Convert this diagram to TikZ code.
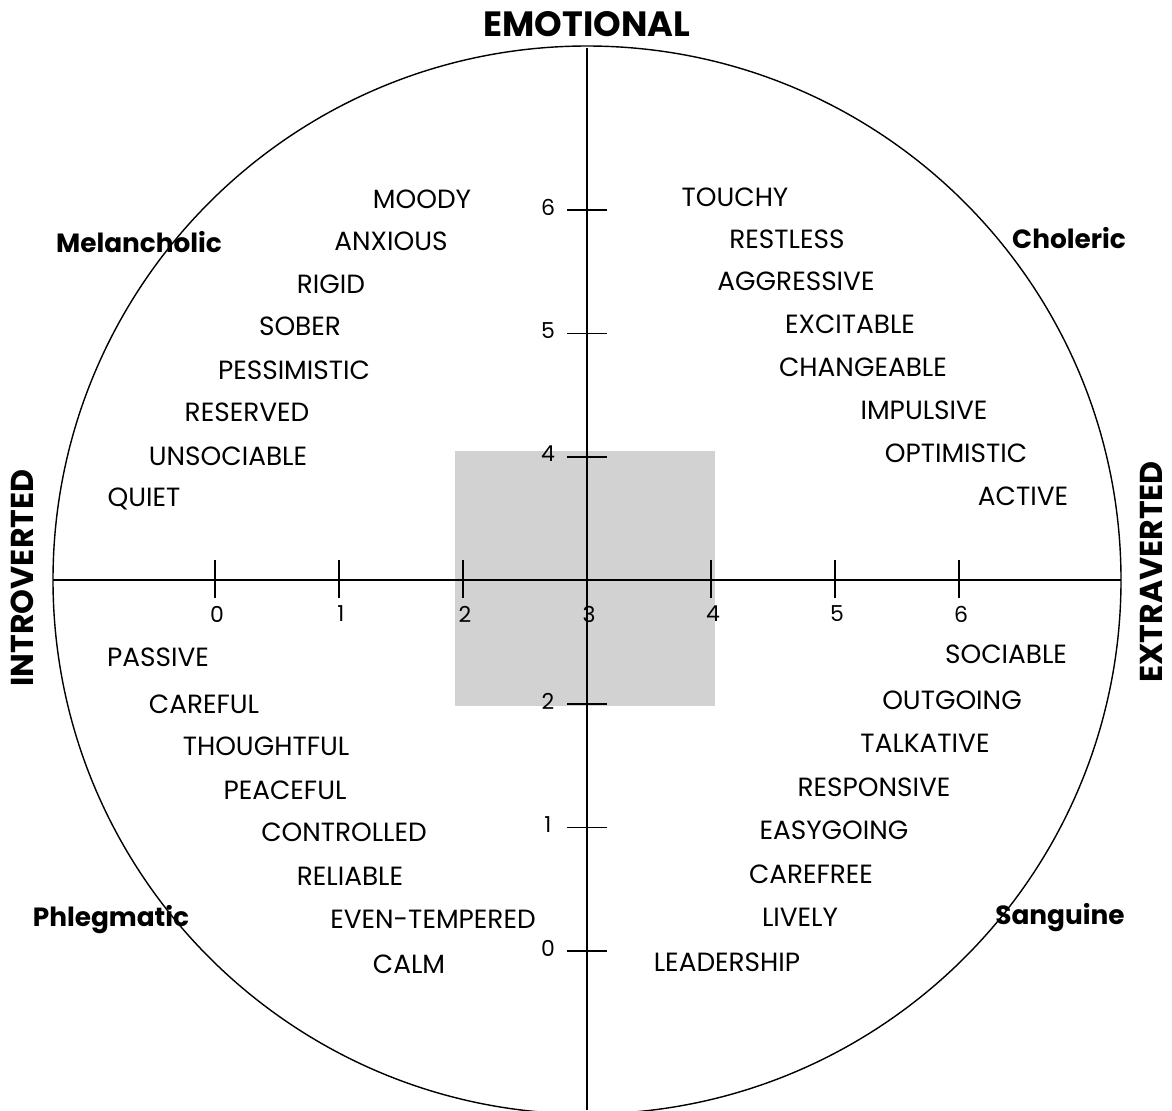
\documentclass[tikz,border=0pt]{standalone}
\usepackage{fontspec}
\setmainfont{Poppins}
\usepackage{tikz}
\usetikzlibrary{positioning, calc}

\begin{document}
\begin{tikzpicture}[
    x=0.02cm, y=-0.02cm,
    trait/.style={font=\fontsize{15}{17}\selectfont, inner sep=0pt},
    temper/.style={font=\fontsize{15}{17}\selectfont\bfseries, inner sep=0pt},
    axistitle/.style={font=\fontsize{18}{21}\selectfont\bfseries, inner sep=0pt},
    ticklabel/.style={font=\fontsize{12.5}{14}\selectfont, inner sep=0pt},
]
\useasboundingbox (0,0) rectangle (1172,1110);

% Centre and shaded square
\coordinate (c) at (587,580);
\node (box) [draw=none, fill=gray!35, minimum width=260*0.02cm, minimum height=255*0.02cm, inner sep=0pt] at (585,578) {};

% Circle and axes
\draw[line width=0.8pt] (c) circle [radius=534];
\coordinate (top) at (587,48);
\coordinate (bot) at (587,1110);
\coordinate (lft) at (53,580);
\coordinate (rgt) at (1121,580);
\draw[line width=0.8pt] (top) -- (bot);
\draw[line width=0.9pt] (lft) -- (rgt);

% Ticks on the horizontal scale
\foreach \n in {0,...,6} {
  \draw[line width=0.8pt] ({215+124*\n},560) -- ({215+124*\n},598);
  \node[ticklabel] (x\n) at ({217+124*\n},614) {\n};
}
% Ticks on the vertical scale
\foreach \n in {0,1,2,4,5,6} {
  \draw[line width=0.8pt] (567,{951-123.5*\n}) -- (607,{951-123.5*\n});
  \node[ticklabel] (y\n) at (548,{948-123.5*\n}) {\n};
}

% Axis titles
\node (emo) [axistitle, font=\fontsize{20}{23}\selectfont\bfseries] at (587,24) {EMOTIONAL};
\node (intro) [axistitle, rotate=90] at (22,578) {INTROVERTED};
\node (extra) [axistitle, rotate=90] at (1151,572) {EXTRAVERTED};

% Temperaments
\node (mel) [temper] at (139,242) {Melancholic};
\node (cho) [temper] at (1069,238) {Choleric};
\node (phl) [temper] at (111,920) {Phlegmatic};
\node (san) [temper] at (1060,918) {Sanguine};

% Melancholic traits
\node (moody) [trait] at (422,199) {MOODY};
\node (anxious) [trait] at (391,241) {ANXIOUS};
\node (rigid) [trait] at (331,284) {RIGID};
\node (sober) [trait] at (300,326) {SOBER};
\node (pessim) [trait] at (294,370) {PESSIMISTIC};
\node (reserved) [trait] at (247,412) {RESERVED};
\node (unsoc) [trait] at (228,456) {UNSOCIABLE};
\node (quiet) [trait] at (144,499) {QUIET};

% Choleric traits
\node (touchy) [trait] at (735,197) {TOUCHY};
\node (restless) [trait] at (787,239) {RESTLESS};
\node (aggr) [trait] at (796,281) {AGGRESSIVE};
\node (excit) [trait] at (850,324) {EXCITABLE};
\node (change) [trait] at (863,367) {CHANGEABLE};
\node (impuls) [trait] at (924,410) {IMPULSIVE};
\node (optim) [trait] at (956,453) {OPTIMISTIC};
\node (active) [trait] at (1023,496) {ACTIVE};

% Phlegmatic traits
\node (passive) [trait] at (158,657) {PASSIVE};
\node (careful) [trait] at (204,704) {CAREFUL};
\node (thought) [trait] at (266,746) {THOUGHTFUL};
\node (peace) [trait] at (285,790) {PEACEFUL};
\node (control) [trait] at (344,832) {CONTROLLED};
\node (reliable) [trait] at (350,876) {RELIABLE};
\node (eventemp) [trait] at (433,919) {EVEN-TEMPERED};
\node (calm) [trait] at (409,964) {CALM};

% Sanguine traits
\node (sociable) [trait] at (1006,654) {SOCIABLE};
\node (outgoing) [trait] at (952,700) {OUTGOING};
\node (talk) [trait] at (925,743) {TALKATIVE};
\node (respons) [trait] at (874,787) {RESPONSIVE};
\node (easy) [trait] at (834,830) {EASYGOING};
\node (carefree) [trait] at (811,874) {CAREFREE};
\node (lively) [trait] at (800,917) {LIVELY};
\node (leader) [trait] at (727,962) {LEADERSHIP};

\end{tikzpicture}
\end{document}
